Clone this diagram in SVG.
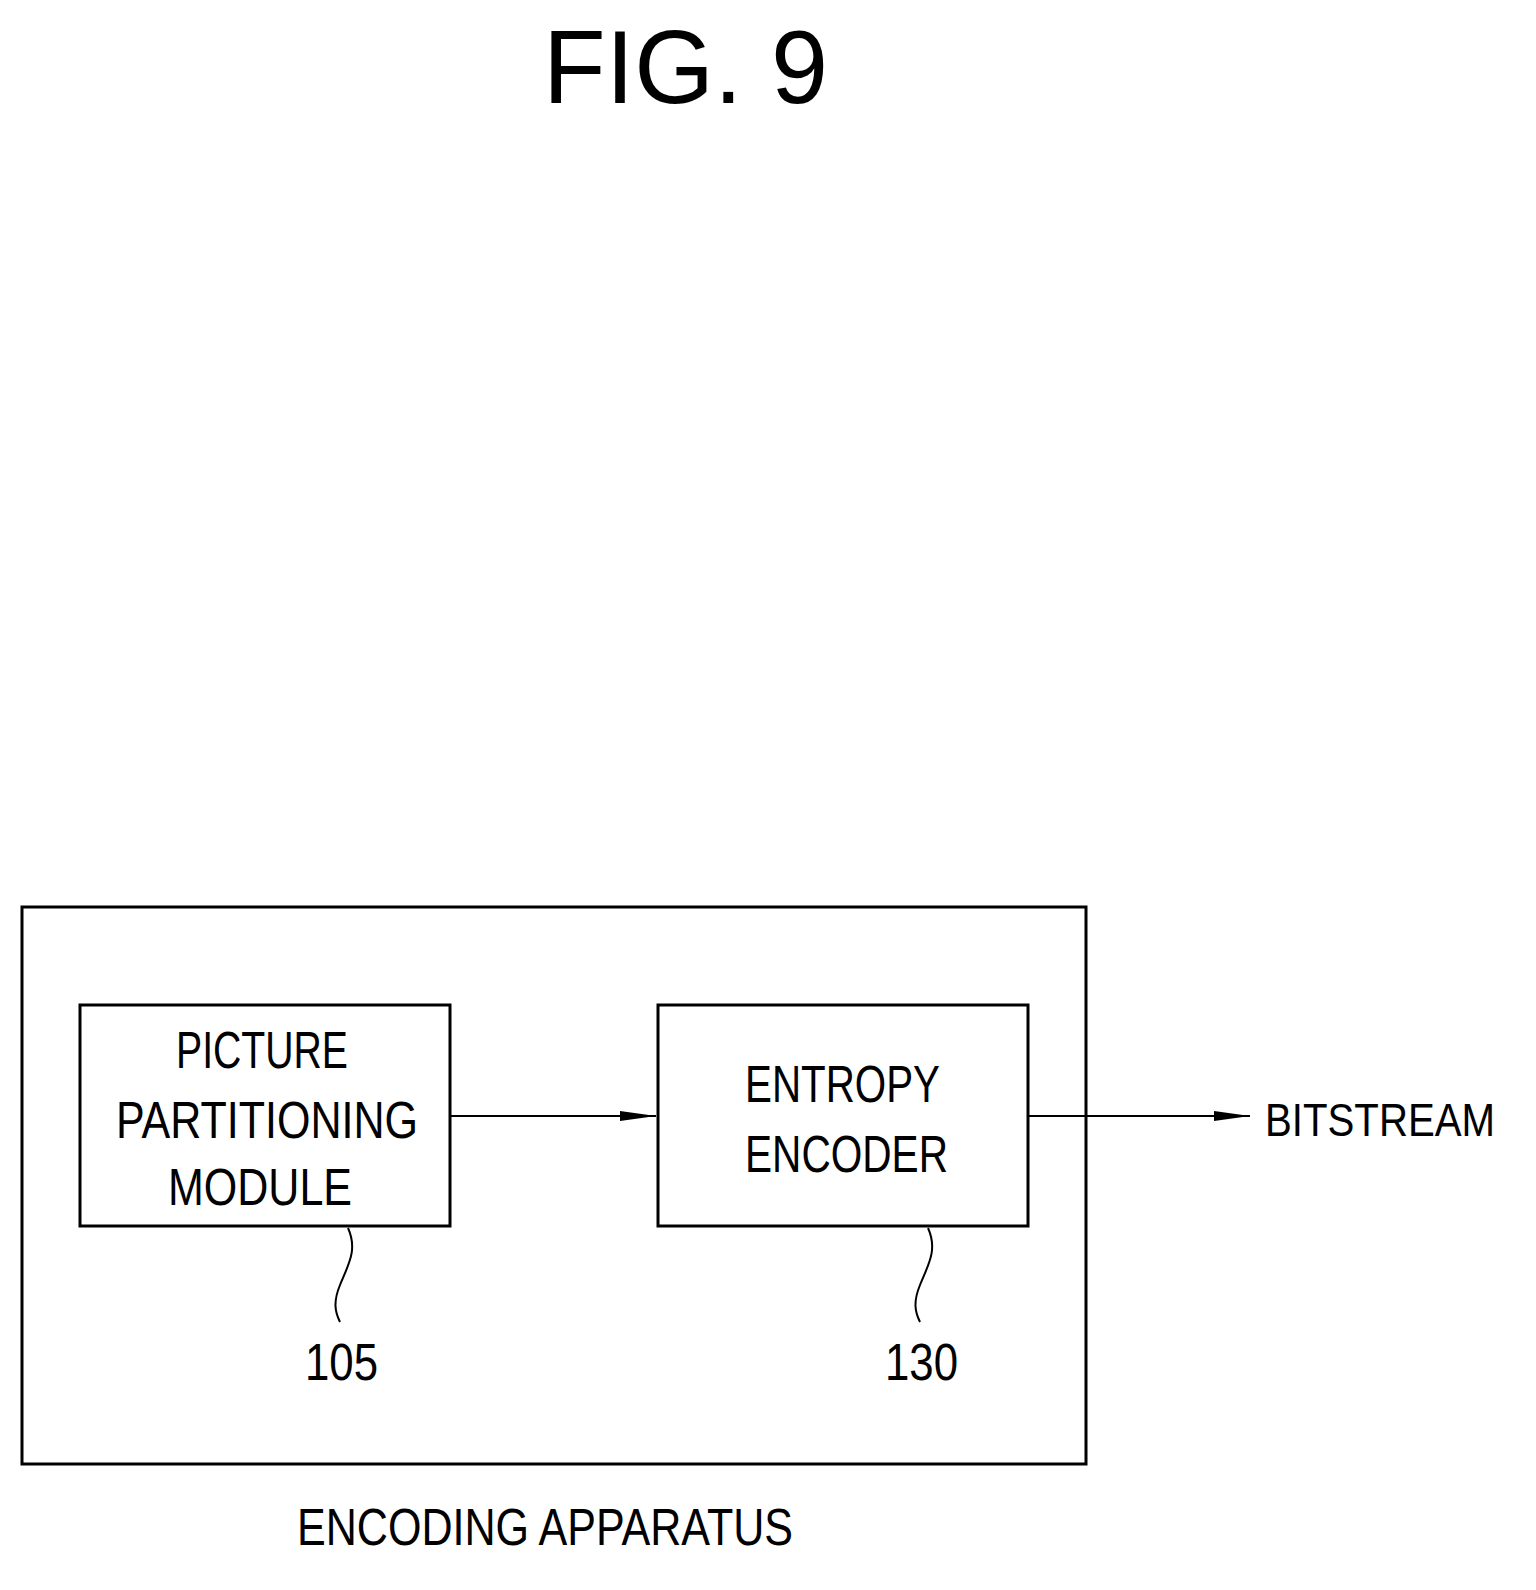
<svg xmlns="http://www.w3.org/2000/svg" width="1536" height="1590" viewBox="0 0 1536 1590">
<style>
text{font-family:"Liberation Sans","DejaVu Sans",sans-serif;fill:#000}
.t{font-size:52px}
.box{fill:none;stroke:#000;stroke-width:3}
.ln{fill:none;stroke:#000;stroke-width:2}
</style>
<defs><marker id="ah" markerWidth="36" markerHeight="12" refX="36" refY="6" orient="auto" markerUnits="userSpaceOnUse"><path d="M0,1 L36,6 L0,11 Z" fill="#000"/></marker></defs>
<rect width="1536" height="1590" fill="#fff"/>
<text x="543" y="103" font-size="104" textLength="285" lengthAdjust="spacingAndGlyphs">FIG. 9</text>
<g id="apparatus"><rect class="box" x="22" y="907" width="1064" height="557"/>
<text class="t" x="297" y="1545" textLength="496" lengthAdjust="spacingAndGlyphs">ENCODING APPARATUS</text></g>
<g id="n105"><rect class="box" x="80" y="1005" width="370" height="221"/>
<text class="t" x="176" y="1068" textLength="172" lengthAdjust="spacingAndGlyphs">PICTURE</text>
<text class="t" x="116" y="1138" textLength="302" lengthAdjust="spacingAndGlyphs">PARTITIONING</text>
<text class="t" x="168" y="1205" textLength="184" lengthAdjust="spacingAndGlyphs">MODULE</text>
<path class="ln" d="M348,1228 C358,1250 348,1265 340,1285 C333,1302 335,1312 340,1322"/>
<text class="t" x="305" y="1380" textLength="73" lengthAdjust="spacingAndGlyphs">105</text></g>
<g id="n130"><rect class="box" x="658" y="1005" width="370" height="221"/>
<text class="t" x="745" y="1102" textLength="195" lengthAdjust="spacingAndGlyphs">ENTROPY</text>
<text class="t" x="745" y="1172" textLength="203" lengthAdjust="spacingAndGlyphs">ENCODER</text>
<path class="ln" d="M928,1228 C938,1250 928,1265 920,1285 C913,1302 915,1312 920,1322"/>
<text class="t" x="885" y="1380" textLength="73" lengthAdjust="spacingAndGlyphs">130</text></g>
<g id="bitstream"><text x="1265" y="1136" font-size="46" textLength="230" lengthAdjust="spacingAndGlyphs">BITSTREAM</text></g>
<g id="connectors">
<line class="ln" x1="451" y1="1116" x2="656" y2="1116" marker-end="url(#ah)"/>
<line class="ln" x1="1029" y1="1116" x2="1250" y2="1116" marker-end="url(#ah)"/>
</g>
</svg>
